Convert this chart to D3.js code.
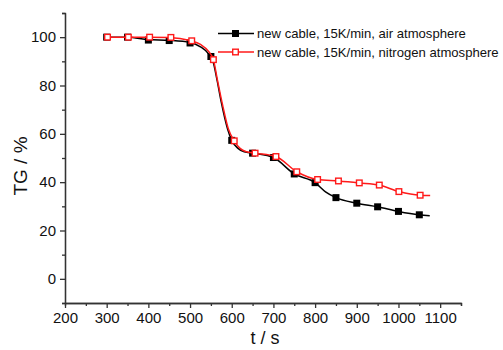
<!DOCTYPE html>
<html>
<head>
<meta charset="utf-8">
<script src="https://cdn.jsdelivr.net/npm/d3@7"></script>
<style>
  body { margin: 0; background: #fff; }
  svg { display: block; font-family: Arial, "Liberation Sans", sans-serif; }
</style>
</head>
<body>
<svg></svg>
<script>
// Svg size
const width = 503
const height = 350

// Marker points (every 50 s)
const airT = [300, 350, 400, 450, 500, 550, 600, 650, 700, 750, 800, 850, 900, 950, 1000, 1050]
const airTG = [100, 100, 98.8, 98.6, 97.6, 92, 57.3, 52, 50.2, 43.4, 39.8, 33.6, 31.3, 29.8, 27.9, 26.5]
const nitT = [302, 352, 403, 454, 504, 556, 606, 656, 706, 756, 806, 856, 906, 954, 1001, 1052]
const nitTG = [100, 100, 100, 99.9, 98.5, 90.7, 57.1, 52, 50.6, 44.3, 41.1, 40.5, 39.7, 38.8, 36.1, 34.6]

// Extra points along the curves
const airCurveT = [300, 350, 400, 450, 500, 525, 545, 555, 565, 575, 590, 600, 615, 630, 650, 700, 750, 800, 825, 850, 900, 950, 1000, 1050, 1075]
const airCurveTG = [100, 100, 99, 98.7, 97.8, 96, 93, 90, 82, 73, 62, 57.3, 54, 52.6, 52, 50.2, 43.4, 39.8, 36, 33.6, 31.3, 29.8, 27.9, 26.5, 26.1]
const nitCurveT = [300, 350, 400, 450, 500, 525, 545, 556, 566, 578, 592, 606, 620, 635, 656, 706, 756, 806, 856, 906, 954, 1001, 1052, 1076]
const nitCurveTG = [100, 100, 100, 99.9, 98.6, 97, 94, 90.7, 82, 72, 62, 57.1, 54, 52.6, 52, 50.6, 44.3, 41.1, 40.5, 39.7, 38.8, 36.1, 34.6, 34.5]

const xTicks = [200, 300, 400, 500, 600, 700, 800, 900, 1000, 1100]
const yTicks = [0, 20, 40, 60, 80, 100]
const legendLabels = ["new cable, 15K/min, air atmosphere", "new cable, 15K/min, nitrogen atmosphere"]

const svg = d3.select("svg")
    .attr("width", width)
    .attr("height", height)

const margin = { top: 13, right: 42, bottom: 47, left: 65 }
const innerWidth = width - margin.left - margin.right
const innerHeight = height - margin.top - margin.bottom

const xScale = d3.scaleLinear().domain([200, 1150]).range([0, innerWidth])
const yScale = d3.scaleLinear().domain([-10, 110]).range([innerHeight, 0])

const g = svg.append("g")
    .attr("transform", `translate(${margin.left}, ${margin.top})`)

const axisColor = "#333"

// Minor ticks
const xMinor = d3.axisBottom(xScale).tickValues(d3.range(250, 1151, 100)).tickSize(3).tickFormat("")
const yMinor = d3.axisLeft(yScale).tickValues(d3.range(-10, 111, 20)).tickSize(3).tickFormat("")
g.append("g").attr("class", "minor").attr("transform", `translate(0, ${innerHeight})`).call(xMinor)
g.append("g").attr("class", "minor").call(yMinor)
g.selectAll(".minor text").remove()

// Major axes
const xAxis = d3.axisBottom(xScale).tickValues(xTicks).tickSize(5).tickPadding(4)
    .tickSizeOuter(0).tickFormat(d3.format("d"))
const yAxis = d3.axisLeft(yScale).tickValues(yTicks).tickSize(5).tickPadding(4)
    .tickSizeOuter(0).tickFormat(d3.format("d"))

const xAxisG = g.append("g").attr("transform", `translate(0, ${innerHeight})`).call(xAxis)
const yAxisG = g.append("g").call(yAxis)

g.selectAll(".domain, .tick line")
    .attr("stroke", axisColor)
    .attr("stroke-width", 1.3)

xAxisG.selectAll("text").attr("font-size", 15).attr("fill", "#111")
yAxisG.selectAll("text").attr("font-size", 15).attr("fill", "#111")

// Axis labels
svg.append("text")
    .attr("x", margin.left + xScale(680))
    .attr("y", 344)
    .attr("text-anchor", "middle")
    .attr("font-size", 18)
    .attr("fill", "#111")
    .text("t / s")

svg.append("text")
    .attr("transform", `translate(27, 166) rotate(-90)`)
    .attr("text-anchor", "middle")
    .attr("font-size", 19)
    .attr("fill", "#111")
    .text("TG / %")

// Lines
const lineGenerator = d3.line()
    .x(d => xScale(d[0]))
    .y(d => yScale(d[1]))
    .curve(d3.curveMonotoneX)

const black = "#000"
const red = "#ff1a1a"
const mSize = 7

g.append("path")
    .attr("d", lineGenerator(d3.zip(airCurveT, airCurveTG)))
    .attr("stroke", black)
    .attr("stroke-width", 1.5)
    .attr("fill", "none")

g.selectAll(".airPt").data(d3.zip(airT, airTG))
    .enter().append("rect")
    .attr("x", d => xScale(d[0]) - mSize / 2)
    .attr("y", d => yScale(d[1]) - mSize / 2)
    .attr("width", mSize)
    .attr("height", mSize)
    .attr("fill", black)

g.append("path")
    .attr("d", lineGenerator(d3.zip(nitCurveT, nitCurveTG)))
    .attr("stroke", red)
    .attr("stroke-width", 1.5)
    .attr("fill", "none")

g.selectAll(".nitPt").data(d3.zip(nitT, nitTG))
    .enter().append("rect")
    .attr("x", d => xScale(d[0]) - (mSize - 1.4) / 2)
    .attr("y", d => yScale(d[1]) - (mSize - 1.4) / 2)
    .attr("width", mSize - 1.4)
    .attr("height", mSize - 1.4)
    .attr("fill", "#fff")
    .attr("stroke", red)
    .attr("stroke-width", 1.4)

// Legend
const legend = svg.append("g")
const legendColors = [black, red]
legendLabels.forEach((label, i) => {
    const y = 33.5 + i * 18.5
    legend.append("line")
        .attr("x1", 218).attr("x2", 254)
        .attr("y1", y).attr("y2", y)
        .attr("stroke", legendColors[i])
        .attr("stroke-width", 1.5)
    if (i === 0) {
        legend.append("rect")
            .attr("x", 235.5 - mSize / 2).attr("y", y - mSize / 2)
            .attr("width", mSize).attr("height", mSize)
            .attr("fill", black)
    } else {
        legend.append("rect")
            .attr("x", 235.5 - (mSize - 1.4) / 2).attr("y", y - (mSize - 1.4) / 2)
            .attr("width", mSize - 1.4).attr("height", mSize - 1.4)
            .attr("fill", "#fff")
            .attr("stroke", red)
            .attr("stroke-width", 1.4)
    }
    legend.append("text")
        .attr("x", 257)
        .attr("y", y + 4.5)
        .attr("font-size", 13.1)
        .attr("fill", "#111")
        .text(label)
})
</script>
</body>
</html>
